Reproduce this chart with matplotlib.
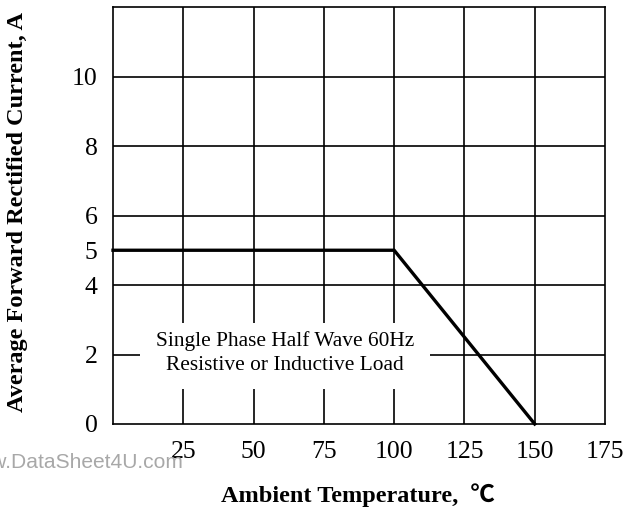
import matplotlib
matplotlib.use("Agg")
import matplotlib.pyplot as plt
from matplotlib.patches import Rectangle

# Data
temp = [0, 100, 150]
current = [5, 5, 0]
x_ticks = [25, 50, 75, 100, 125, 150, 175]
y_ticks = [0, 2, 4, 5, 6, 8, 10]
x_grid = [25, 50, 75, 100, 125, 150]
y_grid = [2, 4, 6, 8, 10]
note_lines = ["Single Phase Half Wave 60Hz", "Resistive or Inductive Load"]
xlabel = "Ambient Temperature,  \u2103"
ylabel = "Average Forward Rectified Current, A"
watermark = "www.DataSheet4U.com"

serif = ["Liberation Serif", "DejaVu Serif"]
plt.rcParams["font.family"] = serif

fig = plt.figure(figsize=(6.36, 5.11), dpi=100)
ax = fig.add_axes([113/636, 1-424/511, (605-113)/636, (424-7)/511])
ax.set_xlim(0, 175)
ax.set_ylim(0, 12)

lw_grid = 1.2
for xv in x_grid:
    ax.axvline(xv, color="black", lw=lw_grid, zorder=1)
for yv in y_grid:
    ax.axhline(yv, color="black", lw=lw_grid, zorder=1)
for s in ax.spines.values():
    s.set_linewidth(lw_grid)

# white box behind note
ax.add_patch(Rectangle((9.6, 1.0), 103.2, 1.9, facecolor="white",
                       edgecolor="none", zorder=2))
ax.text(61.2, 2.05, "\n".join(note_lines), ha="center", va="center",
        fontsize=15.4, linespacing=1.38, zorder=3)

ax.plot(temp, current, color="black", lw=2.4, zorder=4,
        solid_joinstyle="miter", clip_on=False)

ax.set_xticks(x_ticks)
ax.set_xticklabels([str(v) for v in x_ticks])
ax.set_yticks(y_ticks)
ax.set_yticklabels([str(v) for v in y_ticks])
ax.tick_params(length=0, labelsize=18.5)
ax.tick_params(axis="x", pad=12)
ax.tick_params(axis="y", pad=11)

fig.text(18/636, 1-212/511, ylabel, rotation=90, ha="center", va="center",
         fontsize=17.5, fontweight="bold")
fig.text(358/636, 1-495/511, xlabel, ha="center", va="center",
         fontsize=17.5, fontweight="bold",
         family=["Liberation Serif", "Noto Sans CJK SC"])

fig.text(183/636, 1-462/511, watermark, ha="right", va="center",
         fontsize=15.1, color="#a8a8a8", family=["Liberation Sans"], zorder=0)

fig.savefig("out.png", dpi=100)
